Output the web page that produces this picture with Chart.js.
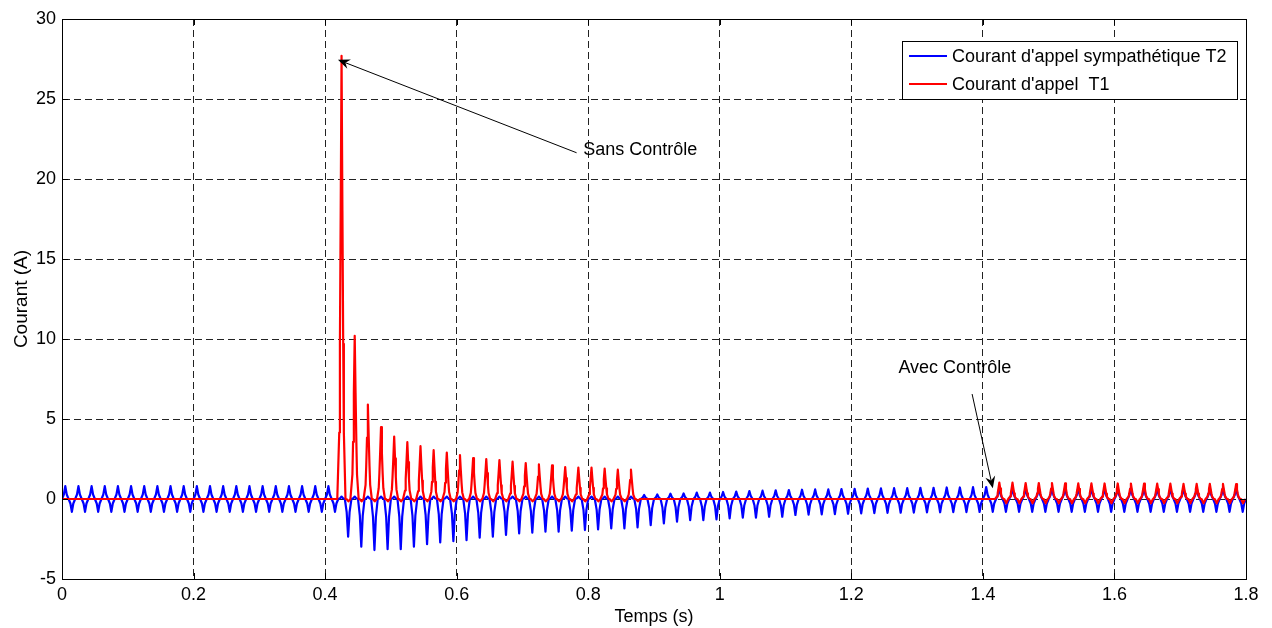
<!DOCTYPE html>
<html>
<head>
<meta charset="utf-8">
<title>Courant d'appel</title>
<script src="https://cdn.jsdelivr.net/npm/chart.js@4.4.1/dist/chart.umd.min.js"></script>
<style>
    html, body { margin: 0; padding: 0; background: #fff; }
    canvas { display: block; }
</style>
</head>
<body>
<canvas id="currentChart" width="1272" height="628"></canvas>
<script>
const CYCLE = 0.02; // 50 Hz

const xTicks = [0, 0.2, 0.4, 0.6, 0.8, 1, 1.2, 1.4, 1.6, 1.8];
const yTicks = [-5, 0, 5, 10, 15, 20, 25, 30];

// per-cycle positive / negative peaks of T2 (one value per 20 ms)
const bluePos = [
    0.8, 0.8, 0.8, 0.8, 0.8, 0.8, 0.8, 0.8, 0.8, 0.8,
    0.8, 0.8, 0.8, 0.8, 0.8, 0.8, 0.8, 0.8, 0.8, 0.8,
    0.8, 0.15, 0.15, 0.15, 0.15, 0.15, 0.15, 0.15, 0.15, 0.15,
    0.15, 0.15, 0.15, 0.15, 0.15, 0.15, 0.15, 0.15, 0.15, 0.15,
    0.15, 0.15, 0.15, 0.15, 0.25, 0.28, 0.33, 0.35, 0.4, 0.4,
    0.44, 0.46, 0.5, 0.52, 0.54, 0.56, 0.58, 0.6, 0.6, 0.62,
    0.64, 0.65, 0.66, 0.68, 0.68, 0.7, 0.7, 0.72, 0.72, 0.74,
    0.75, 0.7, 0.7, 0.7, 0.7, 0.7, 0.7, 0.7, 0.7, 0.7,
    0.7, 0.7, 0.7, 0.7, 0.7, 0.7, 0.7, 0.7, 0.7, 0.7
];
const blueNeg = [
    -0.8, -0.8, -0.8, -0.8, -0.8, -0.8, -0.8, -0.8, -0.8, -0.8,
    -0.8, -0.8, -0.8, -0.8, -0.8, -0.8, -0.8, -0.8, -0.8, -0.8,
    -0.8, -2.36, -2.98, -3.19, -3.14, -3.14, -2.98, -2.82, -2.71, -2.63,
    -2.57, -2.42, -2.36, -2.25, -2.15, -2.11, -2.04, -2.04, -1.98, -1.94,
    -1.9, -1.84, -1.84, -1.77, -1.63, -1.52, -1.42, -1.32, -1.32, -1.27,
    -1.21, -1.17, -1.17, -1.11, -1.11, -1.0, -0.98, -0.96, -0.94, -0.92,
    -0.9, -0.88, -0.87, -0.86, -0.85, -0.84, -0.83, -0.82, -0.82, -0.81,
    -0.8, -0.8, -0.8, -0.8, -0.8, -0.8, -0.8, -0.8, -0.8, -0.8,
    -0.8, -0.8, -0.8, -0.8, -0.8, -0.8, -0.8, -0.8, -0.8, -0.8
];

// per-cycle peak and dip of T1
const redPeak = [
    0, 0, 0, 0, 0, 0, 0, 0, 0, 0,
    0, 0, 0, 0, 0, 0, 0, 0, 0, 0,
    0, 27.7, 10.2, 5.9, 4.5, 3.9, 3.55, 3.3, 3.05, 2.9,
    2.75, 2.55, 2.5, 2.43, 2.33, 2.25, 2.16, 2.1, 2.0, 1.97,
    1.97, 1.9, 1.83, 1.83, 0, 0, 0, 0, 0, 0,
    0, 0, 0, 0, 0, 0, 0, 0, 0, 0,
    0, 0, 0, 0, 0, 0, 0, 0, 0, 0,
    0, 1.02, 1.02, 1.0, 1.0, 1.0, 0.98, 0.98, 0.98, 0.97,
    0.97, 0.97, 0.96, 0.96, 0.96, 0.95, 0.95, 0.95, 0.94, 0.93
];
const redDip = [
    0, 0, 0, 0, 0, 0, 0, 0, 0, 0,
    0, 0, 0, 0, 0, 0, 0, 0, 0, 0,
    0, -0.15, -0.15, -0.15, -0.15, -0.15, -0.15, -0.15, -0.15, -0.15,
    -0.15, -0.15, -0.15, -0.15, -0.15, -0.15, -0.15, -0.15, -0.15, -0.15,
    -0.15, -0.15, -0.15, -0.15, 0, 0, 0, 0, 0, 0,
    0, 0, 0, 0, 0, 0, 0, 0, 0, 0,
    0, 0, 0, 0, 0, 0, 0, 0, 0, 0,
    0, -0.27, -0.27, -0.27, -0.27, -0.27, -0.27, -0.27, -0.27, -0.27,
    -0.27, -0.27, -0.27, -0.27, -0.27, -0.27, -0.27, -0.27, -0.27, -0.27
];

const seriesLabels = ["Courant d'appel sympathétique T2", "Courant d'appel  T1"];
const seriesColors = ['#0000ff', '#ff0000'];

// pulse outlines: [time offset in the cycle, share of the peak]
const BLUE_SPIKE = [[0, 0], [0.0028, 0.35], [0.005, 1], [0.0072, 0.35], [0.01, 0]];
const RED_SPIKE = [
    [-0.001, 0], [0.0015, 0.15], [0.0025, 0.35], [0.0037, 0.65], [0.005, 1],
    [0.0063, 0.65], [0.0075, 0.35], [0.0085, 0.15], [0.011, 0]
];
const RED_DIP = [[0.0125, 0], [0.0155, 1], [0.0185, 0]];

function buildBlue() {
    const pts = [];
    bluePos.forEach((p, k) => {
        const t0 = k * CYCLE;
        BLUE_SPIKE.forEach(([dt, f]) => pts.push({ x: t0 + dt, y: f * p }));
        BLUE_SPIKE.slice(1).forEach(([dt, f]) => pts.push({ x: t0 + 0.01 + dt, y: f * blueNeg[k] }));
    });
    return pts;
}

function buildRed() {
    const pts = [];
    redPeak.forEach((p, k) => {
        const t0 = k * CYCLE;
        RED_SPIKE.forEach(([dt, f]) => pts.push({ x: t0 + dt, y: f * p }));
        RED_DIP.forEach(([dt, f]) => pts.push({ x: t0 + dt, y: f * redDip[k] }));
    });
    return pts;
}

const FAMILY = '"Liberation Sans", Arial, sans-serif';
const FONT = '18px ' + FAMILY;

// axes box, inward ticks, legend box and the two arrows
const matlabFrame = {
    id: 'matlabFrame',
    afterDraw(chart) {
        const { ctx, chartArea: a, scales: { x, y } } = chart;
        ctx.save();
        ctx.strokeStyle = '#000';
        ctx.lineWidth = 1;
        ctx.strokeRect(a.left + 0.5, a.top + 0.5, a.right - a.left, a.bottom - a.top);

        ctx.beginPath();
        xTicks.forEach(v => {
            const px = Math.round(x.getPixelForValue(v)) + 0.5;
            ctx.moveTo(px, a.bottom); ctx.lineTo(px, a.bottom - 6);
            ctx.moveTo(px, a.top); ctx.lineTo(px, a.top + 6);
        });
        yTicks.forEach(v => {
            const py = Math.round(y.getPixelForValue(v)) + 0.5;
            ctx.moveTo(a.left, py); ctx.lineTo(a.left + 6, py);
            ctx.moveTo(a.right, py); ctx.lineTo(a.right - 6, py);
        });
        ctx.stroke();

        // legend
        const lx = 902, ly = 41, lw = 335, lh = 58;
        ctx.fillStyle = '#fff';
        ctx.fillRect(lx, ly, lw, lh);
        ctx.strokeRect(lx + 0.5, ly + 0.5, lw, lh);
        ctx.font = FONT;
        ctx.textBaseline = 'middle';
        ctx.textAlign = 'left';
        seriesLabels.forEach((label, i) => {
            const rowY = ly + 15 + i * 28;
            ctx.strokeStyle = seriesColors[i];
            ctx.lineWidth = 2;
            ctx.beginPath();
            ctx.moveTo(lx + 7, rowY); ctx.lineTo(lx + 45, rowY);
            ctx.stroke();
            ctx.fillStyle = '#000';
            ctx.fillText(label, lx + 50, rowY + 1);
        });

        // annotations
        drawArrow(ctx, x.getPixelForValue(0.7823), y.getPixelForValue(21.64),
                  x.getPixelForValue(0.4195), y.getPixelForValue(27.45));
        drawArrow(ctx, x.getPixelForValue(1.3836), y.getPixelForValue(6.56),
                  x.getPixelForValue(1.4151), y.getPixelForValue(0.67));
        ctx.fillStyle = '#000';
        ctx.font = FONT;
        ctx.textBaseline = 'middle';
        ctx.fillText('Sans Contrôle', x.getPixelForValue(0.7925), y.getPixelForValue(21.8));
        ctx.fillText('Avec Contrôle', x.getPixelForValue(1.2716), y.getPixelForValue(8.2));
        ctx.restore();
    }
};

function drawArrow(ctx, x0, y0, x1, y1) {
    const ang = Math.atan2(y1 - y0, x1 - x0);
    const len = 12, half = 5, back = 8;
    ctx.strokeStyle = '#000';
    ctx.lineWidth = 1;
    ctx.beginPath();
    ctx.moveTo(x0, y0);
    ctx.lineTo(x1 - Math.cos(ang) * back, y1 - Math.sin(ang) * back);
    ctx.stroke();
    const bx = x1 - Math.cos(ang) * len, by = y1 - Math.sin(ang) * len;
    const nx = -Math.sin(ang), ny = Math.cos(ang);
    ctx.fillStyle = '#000';
    ctx.beginPath();
    ctx.moveTo(x1, y1);
    ctx.lineTo(bx + nx * half, by + ny * half);
    ctx.lineTo(x1 - Math.cos(ang) * back, y1 - Math.sin(ang) * back);
    ctx.lineTo(bx - nx * half, by - ny * half);
    ctx.closePath();
    ctx.fill();
}

const tickFont = { family: FAMILY, size: 18 };

new Chart(document.getElementById('currentChart').getContext('2d'), {
    type: 'line',
    data: {
        datasets: [
            {
                label: seriesLabels[0],
                data: buildBlue(),
                borderColor: seriesColors[0],
                borderWidth: 2.2,
                borderJoinStyle: 'round',
                pointRadius: 0,
                tension: 0,
                order: 2
            },
            {
                label: seriesLabels[1],
                data: buildRed(),
                borderColor: seriesColors[1],
                borderWidth: 2.2,
                borderJoinStyle: 'round',
                pointRadius: 0,
                tension: 0,
                order: 1
            }
        ]
    },
    options: {
        responsive: false,
        animation: false,
        devicePixelRatio: 1,
        layout: { padding: { top: 19, right: 26, left: 0, bottom: 0 } },
        plugins: {
            legend: { display: false },
            tooltip: { enabled: false }
        },
        scales: {
            x: {
                type: 'linear',
                min: 0,
                max: 1.8,
                afterBuildTicks: s => { s.ticks = xTicks.map(v => ({ value: v })); },
                afterFit: s => { s.height = 49; },
                ticks: { color: '#000', font: tickFont, padding: 5, maxRotation: 0, callback: v => String(v) },
                grid: { color: '#222', lineWidth: 1, drawTicks: false },
                border: { display: true, color: '#000', dash: [7, 4] },
                title: { display: true, text: 'Temps (s)', color: '#000', font: tickFont, padding: { top: 0, bottom: 0 } }
            },
            y: {
                type: 'linear',
                min: -5,
                max: 30,
                afterBuildTicks: s => { s.ticks = yTicks.map(v => ({ value: v })); },
                afterFit: s => { s.width = 62; },
                ticks: { color: '#000', font: tickFont, padding: 6, callback: v => String(v) },
                grid: { color: '#222', lineWidth: 1, drawTicks: false },
                border: { display: true, color: '#000', dash: [7, 4] },
                title: { display: true, text: 'Courant (A)', color: '#000', font: { family: FAMILY, size: 19 }, padding: { top: 10, bottom: 0 } }
            }
        }
    },
    plugins: [matlabFrame]
});
</script>
</body>
</html>
